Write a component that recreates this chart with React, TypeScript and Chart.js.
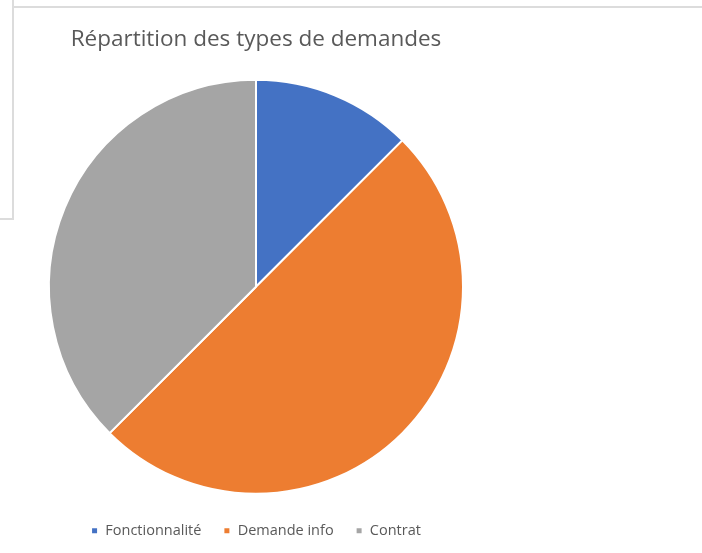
import React, { useEffect, useRef } from "react";
import { Chart, registerables } from "chart.js";

Chart.register(...registerables);

const TITLE = "Répartition des types de demandes";
const categories = ["Fonctionnalité", "Demande info", "Contrat"];
const values = [1, 4, 3];
const colors = ["#4472C4", "#ED7D31", "#A5A5A5"];

const FONT = "'Open Sans', 'Noto Sans', sans-serif";

export default function App() {
  const ref = useRef<HTMLCanvasElement | null>(null);

  useEffect(() => {
    document.body.style.margin = "0";
    if (!ref.current) return;
    const chart = new Chart(ref.current, {
      type: "pie",
      data: {
        labels: categories,
        datasets: [
          {
            data: values,
            backgroundColor: colors,
            borderColor: "#ffffff",
            borderWidth: 2,
            hoverBorderWidth: 2,
            hoverOffset: 0,
            offset: 0,
          },
        ],
      },
      options: {
        animation: false,
        responsive: false,
        maintainAspectRatio: false,
        layout: { padding: { left: 48, right: 238, top: 0, bottom: 5 } },
        plugins: {
          title: {
            display: true,
            text: TITLE,
            color: "#595959",
            font: { family: FONT, size: 22.5, weight: "normal", lineHeight: 1.2 },
            padding: { top: 26, bottom: 19 },
          },
          legend: {
            display: true,
            position: "bottom",
            labels: {
              color: "#595959",
              font: { family: FONT, size: 14.5, lineHeight: 1.5 },
              boxWidth: 7,
              boxHeight: 7,
              padding: 22,
            },
          },
          tooltip: { enabled: false },
        },
      },
    });
    return () => chart.destroy();
  }, []);

  return (
    <div style={{ position: "relative", width: 702, height: 553, background: "#fff" }}>
      <canvas ref={ref} width={702} height={553} style={{ position: "absolute", left: 0, top: 0 }} />
      <div style={{ position: "absolute", left: 12, top: 0, width: 2, height: 220, background: "#dcdcdc" }} />
      <div style={{ position: "absolute", left: 0, top: 218, width: 14, height: 2, background: "#dcdcdc" }} />
      <div style={{ position: "absolute", left: 12, top: 6, width: 690, height: 2, background: "#dcdcdc" }} />
    </div>
  );
}
